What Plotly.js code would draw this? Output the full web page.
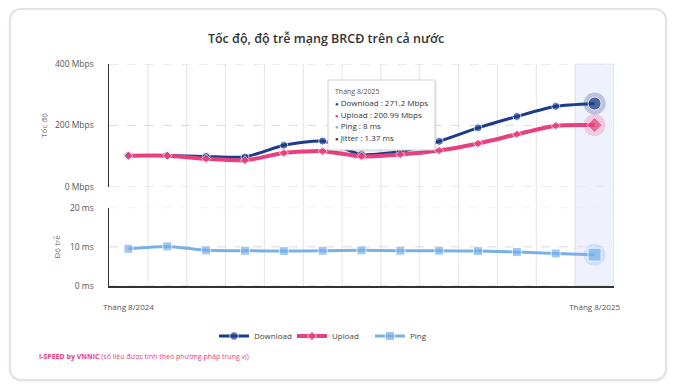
<!DOCTYPE html>
<html>
<head>
<meta charset="utf-8">
<script src="https://cdn.plot.ly/plotly-3.0.1.min.js"></script>
<style>
  html, body { margin: 0; padding: 0; background: #ffffff; width: 675px; height: 387px; overflow: hidden; }
  #card { position: absolute; left: 9px; top: 8px; width: 658px; height: 373px; box-sizing: border-box;
          border: 2px solid #e2e2e2; border-radius: 12px; background: #fff; box-shadow: 0 1px 3px rgba(0,0,0,0.06); }
  #chart { position: absolute; left: 0; top: 0; width: 675px; height: 387px; }
</style>
</head>
<body>
<div id="card"></div>
<div id="chart"></div>
<script>
// ---- data ----
const months = ['Tháng 8/2024','Tháng 9/2024','Tháng 10/2024','Tháng 11/2024','Tháng 12/2024',
                'Tháng 1/2025','Tháng 2/2025','Tháng 3/2025','Tháng 4/2025','Tháng 5/2025',
                'Tháng 6/2025','Tháng 7/2025','Tháng 8/2025'];
const download = [102, 102, 99, 97, 135, 149, 105, 115, 148, 192, 229, 262, 271.2];
const upload   = [101, 101, 91, 86, 110, 116, 99, 105, 118, 141, 171, 199, 200.99];
const ping     = [9.5, 10.1, 9.1, 9.0, 8.9, 9.0, 9.1, 9.0, 9.0, 8.9, 8.7, 8.3, 8];
const jitterLast = 1.37;
const speedTicks = [0, 200, 400];
const pingTicks = [0, 10, 20];
const xTickLabels = [months[0], months[months.length - 1]];

const last = months.length - 1;
const cDown = '#1b3c8c', cUp = '#e8407f', cPing = '#78b1ea';
const FONT = '"Open Sans", "Noto Sans", sans-serif';

function sizes(normal, big) { return months.map((_, i) => i === last ? big : normal); }
// pixel -> paper helpers (plot area: x 109..614, y 64..286)
const px = p => (p - 109) / 505;
const py = p => (286 - p) / 222;

const traces = [
  { x: [months[last]], y: [download[last]], yaxis: 'y', type: 'scatter', mode: 'markers',
    marker: { size: 22, color: 'rgba(27,60,140,0.25)' }, showlegend: false, hoverinfo: 'skip' },
  { x: [months[last]], y: [upload[last]], yaxis: 'y', type: 'scatter', mode: 'markers',
    marker: { size: 22, color: 'rgba(232,64,127,0.22)' }, showlegend: false, hoverinfo: 'skip' },
  { x: [months[last]], y: [ping[last]], xaxis: 'x', yaxis: 'y2', type: 'scatter', mode: 'markers',
    marker: { size: 22, color: 'rgba(120,177,234,0.25)' }, showlegend: false, hoverinfo: 'skip' },
  { name: 'Download', x: months, y: download, yaxis: 'y', type: 'scatter', mode: 'lines+markers',
    line: { color: cDown, width: 3, shape: 'spline', smoothing: 0.6 },
    marker: { symbol: 'circle', color: cDown, size: sizes(8, 13) } },
  { name: 'Upload', x: months, y: upload, yaxis: 'y', type: 'scatter', mode: 'lines+markers',
    line: { color: cUp, width: 4, shape: 'spline', smoothing: 0.6 },
    marker: { symbol: 'diamond', color: cUp, size: sizes(7, 12) } },
  { name: 'Ping', x: months, y: ping, yaxis: 'y2', type: 'scatter', mode: 'lines+markers',
    line: { color: cPing, width: 3, shape: 'spline', smoothing: 0.6 },
    marker: { symbol: 'square', color: cPing, size: sizes(9, 13) } }
];

const shapes = [];
// vertical grid lines at category boundaries
for (let i = 0; i < last; i++) {
  shapes.push({ type: 'line', xref: 'x', yref: 'paper', x0: i + 0.5, x1: i + 0.5, y0: 0, y1: 1,
                line: { color: '#e4e4e4', width: 1 }, layer: 'below' });
}
// dashed horizontal grid lines
speedTicks.forEach(v => shapes.push({ type: 'line', xref: 'paper', yref: 'y', x0: 0, x1: 1, y0: v, y1: v,
  line: { color: '#dadada', width: 1, dash: 'dash' }, layer: 'below' }));
pingTicks.forEach(v => shapes.push({ type: 'line', xref: 'paper', yref: 'y2', x0: 0, x1: 1, y0: v, y1: v,
  line: { color: '#dadada', width: 1, dash: 'dash' }, layer: 'below' }));
// highlight band
shapes.push({ type: 'rect', xref: 'x', yref: 'paper', x0: last - 0.5, x1: last + 0.5, y0: 0, y1: 1,
              fillcolor: 'rgba(226,232,251,0.55)', line: { color: '#e4e4ee', width: 1 }, layer: 'below' });
// tooltip box (shadow + box)
shapes.push({ type: 'rect', xref: 'paper', yref: 'paper', x0: px(329), x1: px(437), y0: py(152), y1: py(81),
              fillcolor: 'rgba(0,0,0,0.07)', line: { width: 0 }, layer: 'above' });
shapes.push({ type: 'rect', xref: 'paper', yref: 'paper', x0: px(328), x1: px(435), y0: py(150), y1: py(80),
              fillcolor: '#ffffff', line: { color: '#cfcfcf', width: 1 }, layer: 'above' });

const dot = c => `<span style="color:${c};font-size:6px">●</span>`;
const tipLines = [
  { t: `<span style="font-size:7px;color:#555">${months[last]}</span>`, y: 91 },
  { t: `${dot(cDown)} Download : ${download[last]} Mbps`, y: 102.5 },
  { t: `${dot(cUp)} Upload : ${upload[last]} Mbps`, y: 114 },
  { t: `${dot(cPing)} Ping : ${ping[last]} ms`, y: 125.5 },
  { t: `${dot('#333')} Jitter : ${jitterLast} ms`, y: 137 }
];
const annotations = tipLines.map(l => ({
  xref: 'paper', yref: 'paper', x: px(333), y: py(l.y), xanchor: 'left', yanchor: 'middle',
  text: l.t, showarrow: false, align: 'left', font: { size: 8, color: '#333', family: FONT }
}));
annotations.push({ xref: 'paper', yref: 'paper', x: px(37), y: py(356), xanchor: 'left', yanchor: 'middle',
  text: '<b>i-SPEED by VNNIC</b> (số liệu được tính theo phương pháp trung vị)', showarrow: false,
  font: { size: 7, color: '#e8407f', family: FONT } });

const layout = {
  width: 675, height: 387,
  margin: { l: 109, r: 61, t: 64, b: 101 },
  paper_bgcolor: 'rgba(0,0,0,0)', plot_bgcolor: 'rgba(0,0,0,0)',
  font: { family: FONT, color: '#555' },
  title: { text: 'Tốc độ, độ trễ mạng BRCĐ trên cả nước', x: 0.483, xanchor: 'center', y: 0.9, yanchor: 'middle',
           font: { family: FONT, size: 12.5, color: '#333', weight: 600 } },
  showlegend: true,
  legend: { orientation: 'h', x: px(331), xanchor: 'center', y: py(336), yanchor: 'middle',
            font: { size: 8, color: '#444', family: FONT }, itemwidth: 30, entrywidth: 33, tracegroupgap: 0 },
  hovermode: false,
  xaxis: { type: 'category', categoryorder: 'array', categoryarray: months,
           range: [-0.5, last + 0.5], anchor: 'y2',
           tickmode: 'array', tickvals: xTickLabels, ticktext: xTickLabels, ticks: '', tickangle: 0,
           tickfont: { size: 8, color: '#555' }, ticklabelstandoff: 13,
           showgrid: false, zeroline: false, showline: true, linecolor: '#333', linewidth: 1.5 },
  yaxis: { domain: [0.447, 1], range: [0, 400], tickmode: 'array', tickvals: speedTicks,
           ticktext: speedTicks.map(v => v + ' Mbps'), ticks: '', ticklabelstandoff: 12,
           tickfont: { size: 8.5, color: '#555' },
           showgrid: false, zeroline: false,
           showline: true, linecolor: '#333', linewidth: 1.5,
           title: { text: 'Tốc độ', font: { size: 8, color: '#777' }, standoff: 6 } },
  yaxis2: { domain: [0, 0.353], range: [0, 20], tickmode: 'array', tickvals: pingTicks,
            ticktext: pingTicks.map(v => v + ' ms'), ticks: '', ticklabelstandoff: 12,
            tickfont: { size: 8.5, color: '#555' },
            showgrid: false, zeroline: false,
            showline: true, linecolor: '#333', linewidth: 1.5, anchor: 'x',
            title: { text: 'Độ trễ', font: { size: 8, color: '#777' }, standoff: 8 } },
  shapes: shapes,
  annotations: annotations
};

Plotly.newPlot('chart', traces, layout, { displayModeBar: false, staticPlot: true });
</script>
</body>
</html>
